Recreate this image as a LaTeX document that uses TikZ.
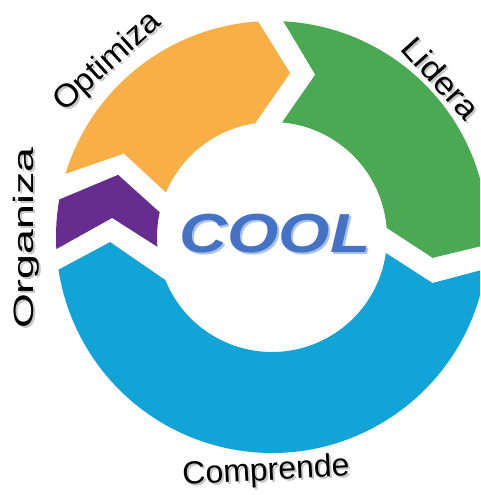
\documentclass[tikz,border=0pt]{standalone}
\usepackage{fontspec}
\setmainfont{Liberation Sans}
\definecolor{orangec}{HTML}{F8AF45}
\definecolor{greenc}{HTML}{4AA952}
\definecolor{bluec}{HTML}{12A3D7}
\definecolor{purplec}{HTML}{662D8F}
\definecolor{coolblue}{HTML}{4472C4}
\definecolor{coollight}{HTML}{A9C0EA}
\begin{document}
\begin{tikzpicture}[x=1pt,y=1pt,
  lab/.style={font=\fontsize{32}{36}\selectfont, inner sep=0pt},
  labshadow/.style={lab, text=black!40, opacity=0.55},
  coolfont/.style={font=\fontsize{55}{55}\selectfont\bfseries\itshape, inner sep=0pt, xscale=1.2}]
\useasboundingbox (-272,-258) rectangle (208,237);
\clip (-272,-258) rectangle (208,237);
% orange (Optimiza)
\fill[orangec] (163:216) arc[start angle=163, end angle=93.7, radius=216]
  -- (83.7:165) -- (98.4:115) arc[start angle=98.4, end angle=157.2, radius=115]
  -- (150.6:170) -- cycle;
% green (Lidera)
\fill[greenc] (87:216) arc[start angle=87, end angle=-2, radius=216]
  -- (-7.4:162) -- (4.6:115) arc[start angle=4.6, end angle=85, radius=115]
  -- (75.1:168) -- cycle;
% blue (Comprende)
\fill[bluec] (-8.5:216) arc[start angle=-8.5, end angle=-171.3, radius=216]
  -- (-178.2:162) -- (-158:115) arc[start angle=-158, end angle=-8, radius=115]
  -- (-16:167) -- cycle;
% purple (Organiza)
\fill[purplec] (183.2:216) arc[start angle=183.2, end angle=170, radius=216]
  -- (158:166) -- (167.6:115) arc[start angle=167.6, end angle=184.9, radius=115]
  -- (173.2:161) -- cycle;
% labels with soft shadow
\node[labshadow, rotate=42, xscale=1.05] (optS) at (-162,173) {Optimiza};
\node[lab, rotate=42, xscale=1.05] (opt) at (-164,175) {Optimiza};
\node[labshadow, rotate=-48, xscale=1.1] (lidS) at (171,157) {Lidera};
\node[lab, rotate=-48, xscale=1.1] (lid) at (169,159) {Lidera};
\node[labshadow, rotate=90, xscale=1.6, font=\fontsize{28}{32}\selectfont] (orgS) at (-244,-3) {Organiza};
\node[lab, rotate=90, xscale=1.6, font=\fontsize{28}{32}\selectfont] (org) at (-246,-1) {Organiza};
\node[labshadow, rotate=3] (comS) at (-4,-237) {Comprende};
\node[lab, rotate=3] (com) at (-6,-235) {Comprende};
% COOL
\node[coolfont, text=coollight] (coolS) at (5,1) {COOL};
\node[coolfont, text=coolblue] (cool) at (3,3) {COOL};
\end{tikzpicture}
\end{document}
